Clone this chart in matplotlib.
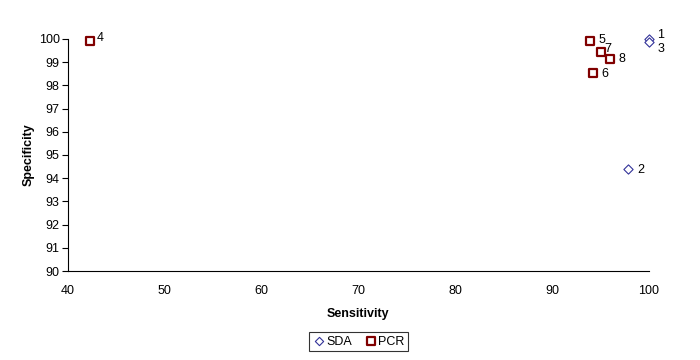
import matplotlib.pyplot as plt

plt.rcParams['font.family'] = ['Liberation Sans', 'DejaVu Sans']

# SDA studies
sda_sens = [100.0, 97.8, 100.0]
sda_spec = [100.0, 94.4, 99.85]
sda_ids = ['1', '2', '3']

# PCR studies
pcr_sens = [42.3, 93.9, 94.2, 95.1, 96.0]
pcr_spec = [99.9, 99.9, 98.55, 99.45, 99.15]
pcr_ids = ['4', '5', '6', '7', '8']

fig = plt.figure(figsize=(7, 3.6), dpi=100)
ax = fig.add_axes([0.097, 0.247, 0.83, 0.645])

ax.scatter(sda_sens, sda_spec, marker='D', s=22, facecolors='white',
           edgecolors='#333399', linewidths=0.8, label='SDA', zorder=3, clip_on=False)
ax.scatter(pcr_sens, pcr_spec, marker='s', s=40, facecolors='white',
           edgecolors='#800000', linewidths=1.6, label='PCR', zorder=3, clip_on=False)

# point labels
offs = {'1': (6, 3), '2': (7, -1), '3': (6, -5)}
for x, y, t in zip(sda_sens, sda_spec, sda_ids):
    ax.annotate(t, (x, y), xytext=offs[t], textcoords='offset points',
                fontsize=9, va='center', annotation_clip=False)
offs = {'4': (5, 2), '5': (6, 1), '6': (6, -1), '7': (2, 2), '8': (6, 0)}
for x, y, t in zip(pcr_sens, pcr_spec, pcr_ids):
    ax.annotate(t, (x, y), xytext=offs[t], textcoords='offset points',
                fontsize=9, va='center', annotation_clip=False)

ax.set_xlim(40, 100)
ax.set_ylim(90, 100)
ax.set_xticks(range(40, 101, 10))
ax.set_yticks(range(90, 101, 1))
ax.tick_params(labelsize=9, direction='out', length=4, width=0.8)
ax.tick_params(axis='x', length=0, pad=10)
ax.tick_params(axis='y', pad=2)
ax.spines['top'].set_visible(False)
ax.spines['right'].set_visible(False)
ax.set_xlabel('Sensitivity', fontsize=9, fontweight='bold', labelpad=8)
ax.set_ylabel('Specificity', fontsize=9, fontweight='bold', labelpad=3)

leg = ax.legend(loc='upper center', bbox_to_anchor=(0.5, -0.235), ncol=2,
                fontsize=9, frameon=True, fancybox=False, edgecolor='black',
                handletextpad=0.1, columnspacing=1.0, borderpad=0.3,
                handlelength=1.0, markerscale=0.9)
leg.get_frame().set_linewidth(0.8)

plt.savefig('out.png', dpi=100)
